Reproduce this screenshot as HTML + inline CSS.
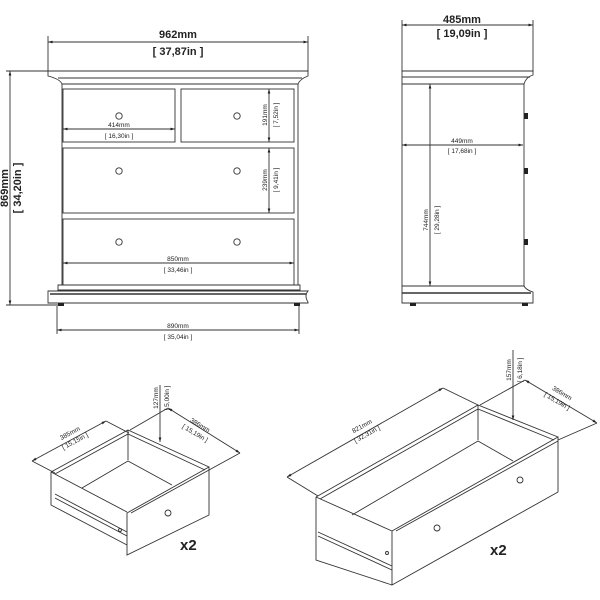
<!DOCTYPE html>
<html><head><meta charset="utf-8"><style>
html,body{margin:0;padding:0;background:#fff}
svg{display:block}
text{font-family:"Liberation Sans",Arial,sans-serif;fill:#222}
.b{font-weight:bold}
</style></head><body>
<svg width="600" height="600" viewBox="0 0 600 600" xmlns="http://www.w3.org/2000/svg">
<defs>
<marker id="a" viewBox="0 0 10 10" refX="10" refY="5" markerWidth="5" markerHeight="5" orient="auto-start-reverse"><path d="M0,2 L10,5 L0,8z" fill="#222"/></marker>
</defs>
<g stroke="#333" stroke-width="0.9" fill="none">
<!-- FRONT VIEW -->
<line x1="48" y1="42" x2="308" y2="42" marker-start="url(#a)" marker-end="url(#a)"/>
<line x1="48" y1="36" x2="48" y2="72"/><line x1="308" y1="36" x2="308" y2="72"/>
<path d="M48,71 H308 V76 Q300,79 298,84 H62 Q60,79 48,76 Z"/>
<line x1="58" y1="78" x2="302" y2="78"/>
<rect x="62" y="84" width="236" height="201"/>
<rect x="63" y="89" width="112" height="53"/>
<rect x="181" y="89" width="113" height="53"/>
<rect x="63" y="148" width="231" height="65"/>
<rect x="63" y="219" width="231" height="66"/>
<circle cx="119" cy="116" r="3.2"/><circle cx="237" cy="116" r="3.2"/>
<circle cx="119" cy="171" r="3.2"/><circle cx="237" cy="171" r="3.2"/>
<circle cx="119" cy="242" r="3.2"/><circle cx="237" cy="242" r="3.2"/>
<path d="M58,285 H300 V290 H58 Z"/>
<path d="M48,291 H308 Q304,296 308,302 V303 H48 Z"/>
<line x1="50" y1="294" x2="306" y2="294" stroke-width="1.4"/>
<line x1="63" y1="129" x2="175" y2="129" marker-start="url(#a)" marker-end="url(#a)"/>
<line x1="269" y1="89" x2="269" y2="142" marker-start="url(#a)" marker-end="url(#a)"/>
<line x1="269" y1="148" x2="269" y2="213" marker-start="url(#a)" marker-end="url(#a)"/>
<line x1="63" y1="263" x2="294" y2="263" marker-start="url(#a)" marker-end="url(#a)"/>
<line x1="10" y1="71" x2="10" y2="305" marker-start="url(#a)" marker-end="url(#a)"/>
<line x1="6" y1="71" x2="48" y2="71"/><line x1="6" y1="305" x2="58" y2="305"/>
<line x1="57" y1="330" x2="299" y2="330" marker-start="url(#a)" marker-end="url(#a)"/>
<line x1="57" y1="306" x2="57" y2="334"/><line x1="299" y1="306" x2="299" y2="334"/>
<!-- SIDE VIEW -->
<line x1="402" y1="25" x2="533" y2="25" marker-start="url(#a)" marker-end="url(#a)"/>
<line x1="402" y1="20" x2="402" y2="72"/><line x1="533" y1="20" x2="533" y2="72"/>
<path d="M402,71 H533 V75 Q526,77 524,84 H402 Z"/>
<line x1="402" y1="77" x2="530" y2="77"/>
<rect x="402" y="84" width="122" height="202"/>
<path d="M402,286 H524 Q526,290 533,292 V303 H402 Z"/>
<line x1="402" y1="293" x2="531" y2="293" stroke-width="1.4"/>
<line x1="402" y1="145" x2="523" y2="145" marker-start="url(#a)" marker-end="url(#a)"/>
<line x1="430" y1="84" x2="430" y2="286" marker-start="url(#a)" marker-end="url(#a)"/>
<!-- SMALL DRAWER -->
<path d="M51,472 L128,430 L209,467"/>
<path d="M55,474 L128,434 L205,470"/>
<line x1="128" y1="430" x2="128" y2="460"/>
<path d="M82,488 L128,461 L172,485"/>
<path d="M51,472 V505 L127,545"/>
<line x1="51" y1="472" x2="127" y2="512"/>
<line x1="55" y1="494" x2="127" y2="532"/>
<line x1="55" y1="498" x2="127" y2="536"/>
<path d="M127,513 L209,467 V515 L127,555 Z"/>
<line x1="131" y1="513" x2="209" y2="470"/>
<line x1="32" y1="461" x2="106" y2="421" marker-start="url(#a)" marker-end="url(#a)"/>
<line x1="32" y1="461" x2="55" y2="473"/><line x1="106" y1="421" x2="129" y2="433"/>
<line x1="168" y1="408" x2="240" y2="453" marker-start="url(#a)" marker-end="url(#a)"/>
<line x1="168" y1="408" x2="130" y2="430"/><line x1="240" y1="453" x2="209" y2="470"/>
<line x1="160" y1="385" x2="160" y2="442" marker-end="url(#a)"/>
<!-- LARGE DRAWER -->
<path d="M316,497 L478,405 L558,437"/>
<path d="M320,499 L478,409 L554,440"/>
<line x1="478" y1="405" x2="478" y2="440"/>
<path d="M352,515 L478,441 L513,461"/>
<path d="M316,497 V560 L392,585"/>
<line x1="316" y1="497" x2="392" y2="531"/>
<line x1="318" y1="532" x2="392" y2="566"/>
<line x1="318" y1="536" x2="392" y2="570"/>
<path d="M392,531 L558,437 V492 L392,585 Z"/>
<line x1="396" y1="531" x2="558" y2="441"/>
<line x1="287" y1="477" x2="443" y2="388" marker-start="url(#a)" marker-end="url(#a)"/>
<line x1="287" y1="477" x2="318" y2="496"/><line x1="443" y1="388" x2="478" y2="405"/>
<line x1="525" y1="380" x2="597" y2="423" marker-start="url(#a)" marker-end="url(#a)"/>
<line x1="525" y1="380" x2="480" y2="405"/><line x1="597" y1="423" x2="558" y2="440"/>
<line x1="513" y1="350" x2="513" y2="420" marker-end="url(#a)"/>
</g>
<g fill="#222">
<rect x="58" y="303" width="6" height="3"/><rect x="294" y="303" width="6" height="3"/>
<rect x="410" y="303" width="6" height="3"/><rect x="522" y="303" width="6" height="3"/>
<rect x="524" y="113" width="4" height="6"/><rect x="524" y="168" width="4" height="6"/><rect x="524" y="239" width="4" height="6"/>
</g>
<g fill="none" stroke="#333" stroke-width="0.9">
<circle cx="168" cy="513" r="3"/><circle cx="437" cy="528" r="3"/><circle cx="520" cy="480" r="3"/>
<circle cx="120" cy="530" r="1.5"/><circle cx="387" cy="553" r="1.5"/>
</g>
<!-- TEXT -->
<text x="178" y="38" class="b" font-size="11" text-anchor="middle">962mm</text>
<text x="178" y="55" class="b" font-size="11" text-anchor="middle">[ 37,87in ]</text>
<text x="462" y="23" class="b" font-size="11" text-anchor="middle">485mm</text>
<text x="462" y="37" class="b" font-size="11" text-anchor="middle">[ 19,09in ]</text>
<text x="119" y="127" font-size="6.5" text-anchor="middle">414mm</text>
<text x="119" y="138" font-size="6.5" text-anchor="middle">[ 16,30in ]</text>
<text x="178" y="261" font-size="6.5" text-anchor="middle">850mm</text>
<text x="178" y="272" font-size="6.5" text-anchor="middle">[ 33,46in ]</text>
<text x="178" y="328" font-size="6.5" text-anchor="middle">890mm</text>
<text x="178" y="339" font-size="6.5" text-anchor="middle">[ 35,04in ]</text>
<text x="462" y="143" font-size="6.5" text-anchor="middle">449mm</text>
<text x="462" y="153" font-size="6.5" text-anchor="middle">[ 17,68in ]</text>
<text transform="translate(267,115) rotate(-90)" font-size="6.5" text-anchor="middle">191mm</text>
<text transform="translate(278,115) rotate(-90)" font-size="6.5" text-anchor="middle">[ 7,52in ]</text>
<text transform="translate(267,180) rotate(-90)" font-size="6.5" text-anchor="middle">239mm</text>
<text transform="translate(278,180) rotate(-90)" font-size="6.5" text-anchor="middle">[ 9,41in ]</text>
<text transform="translate(428,220) rotate(-90)" font-size="6.5" text-anchor="middle">744mm</text>
<text transform="translate(439,220) rotate(-90)" font-size="6.5" text-anchor="middle">[ 29,28in ]</text>
<text transform="translate(8,188) rotate(-90)" class="b" font-size="11" text-anchor="middle">869mm</text>
<text transform="translate(21,188) rotate(-90)" class="b" font-size="11" text-anchor="middle">[ 34,20in ]</text>
<text transform="translate(158,398) rotate(-90)" font-size="6.5" text-anchor="middle">127mm</text>
<text transform="translate(169,398) rotate(-90)" font-size="6.5" text-anchor="middle">[ 5,00in ]</text>
<text transform="translate(511,370) rotate(-90)" font-size="6.5" text-anchor="middle">157mm</text>
<text transform="translate(522,370) rotate(-90)" font-size="6.5" text-anchor="middle">[ 6,18in ]</text>
<text transform="translate(71,435) rotate(-28)" font-size="6.5" text-anchor="middle">385mm</text>
<text transform="translate(76,443) rotate(-28)" font-size="6.5" text-anchor="middle">[ 15,15in ]</text>
<text transform="translate(199,427) rotate(31)" font-size="6.5" text-anchor="middle">386mm</text>
<text transform="translate(194,435) rotate(31)" font-size="6.5" text-anchor="middle">[ 15,19in ]</text>
<text transform="translate(363,428) rotate(-29)" font-size="6.5" text-anchor="middle">821mm</text>
<text transform="translate(368,436) rotate(-29)" font-size="6.5" text-anchor="middle">[ 32,31in ]</text>
<text transform="translate(561,395) rotate(31)" font-size="6.5" text-anchor="middle">386mm</text>
<text transform="translate(556,403) rotate(31)" font-size="6.5" text-anchor="middle">[ 15,19in ]</text>
<text x="180" y="550" class="b" font-size="15">x2</text>
<text x="490" y="555" class="b" font-size="15">x2</text>
</svg>
</body></html>
